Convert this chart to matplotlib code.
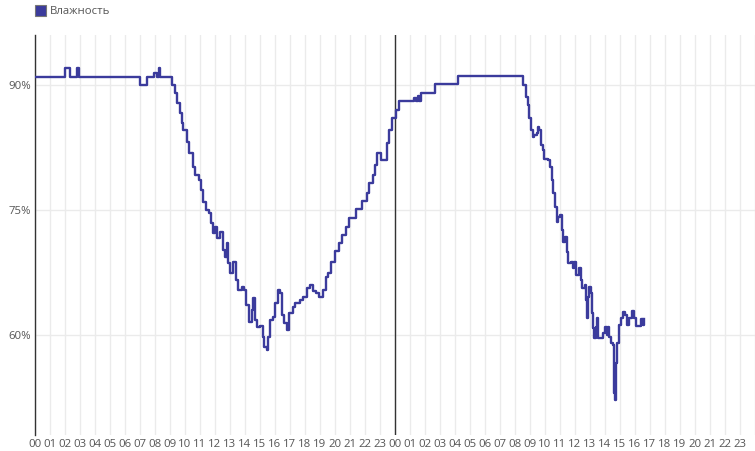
import matplotlib.pyplot as plt
from matplotlib.patches import Rectangle

plt.rcParams['font.family'] = ['Open Sans', 'DejaVu Sans']

# hours since start of first day, humidity %
hours = [0.0, 2.0, 2.35, 2.8, 2.9, 7.0, 7.45, 7.95, 8.1, 8.25, 8.35,
         9.1, 9.33, 9.44, 9.67, 9.78, 9.89, 10.11, 10.29, 10.51, 10.67,
         10.96, 11.07, 11.18, 11.4, 11.62, 11.73, 11.84, 12.0, 12.16, 12.33,
         12.51, 12.67, 12.78, 12.84, 13.0, 13.22, 13.4, 13.56, 13.78, 13.96,
         14.07, 14.29, 14.44, 14.56, 14.67, 14.78, 15.0, 15.18, 15.29, 15.44,
         15.56, 15.67, 15.84, 16.0, 16.18, 16.33, 16.44, 16.6, 16.78, 16.96,
         17.18, 17.33, 17.67, 17.89, 18.11, 18.33, 18.51, 18.73, 18.96, 19.18,
         19.4, 19.56, 19.71, 20.0, 20.29, 20.44, 20.73, 20.96, 21.4, 21.78,
         22.11, 22.29, 22.51, 22.67, 22.82, 23.04, 23.27, 23.44, 23.62, 23.8,
         24.07, 24.24, 25.29, 25.4, 25.51, 25.6, 25.71, 26.67, 28.22,
         32.56, 32.73, 32.84, 32.96, 33.07, 33.18, 33.29, 33.44, 33.56, 33.62,
         33.71, 33.84, 33.96, 34.22, 34.33, 34.44, 34.56, 34.67, 34.78, 34.89,
         35.0, 35.11, 35.22, 35.33, 35.44, 35.56, 35.71, 35.84, 35.93, 36.07,
         36.22, 36.29, 36.4, 36.49, 36.67, 36.73, 36.78, 36.84, 36.96, 37.04,
         37.11, 37.22, 37.29, 37.38, 37.47, 37.56, 37.78, 37.89, 38.0, 38.11,
         38.22, 38.29, 38.38, 38.51, 38.6, 38.67, 38.73, 38.82, 38.91, 39.04,
         39.18, 39.33, 39.44, 39.62, 39.82, 39.96, 40.07, 40.22, 40.38, 40.51,
         40.6]
humidity = [91, 92, 91, 92, 91, 90, 91, 91.5, 91, 92, 91,
            90, 89, 87.8, 86.6, 85.4, 84.6, 83.2, 81.8, 80.2, 79.2,
            78.6, 77.4, 76, 75, 74.6, 73.4, 72.2, 73, 71.6, 72.4,
            70.2, 69.4, 71, 68.6, 67.4, 68.8, 66.6, 65.4, 65.8, 65.4,
            63.6, 61.6, 63, 64.4, 61.8, 61, 61.1, 59.8, 58.6, 58.2,
            59.8, 61.8, 62.2, 63.8, 65.4, 65, 62.4, 61.4, 60.6, 62.6,
            63.4, 63.9, 64.2, 64.6, 65.6, 66, 65.3, 65, 64.6, 65.4,
            67, 67.4, 68.8, 70.1, 71, 72, 73, 74.1, 75.1, 76.1,
            77, 78.2, 79.2, 80.4, 81.8, 81, 81, 83, 84.6, 86,
            87, 88.1, 88.5, 88.1, 88.7, 88.1, 89.1, 90.1, 91.1,
            90, 88.6, 87.6, 86, 84.6, 83.8, 84, 84.2, 85, 84.6,
            82.8, 82.2, 81.1, 81, 80.2, 78.6, 77, 75.4, 73.6, 74.2,
            74.4, 72.6, 71.2, 71.8, 70, 68.6, 68.8, 68, 68.8, 67.2,
            67.2, 68, 66.6, 65.6, 66, 64.2, 62, 64.6, 65.8, 65,
            62.6, 60.8, 59.6, 61, 62, 59.6, 59.6, 60.2, 61, 60,
            61, 59.8, 59, 58.8, 53, 52.2, 56.6, 59, 61.2, 62,
            62.8, 62.4, 61.2, 62, 62.9, 62, 61.1, 61.1, 61.9, 61.2,
            61.9]

y_ticks = [60, 75, 90]
x_tick_labels = [f"{h % 24:02d}" for h in range(48)]

line_color = '#3b3b9c'
text_color = '#555555'
grid_color = '#ebebeb'

fig = plt.figure(figsize=(7.55, 4.51), dpi=100)
ax = fig.add_axes([35 / 755, 1 - 435 / 451, 720 / 755, 400 / 451])

ax.plot(hours, humidity, color=line_color, lw=1.7, drawstyle='steps-post', zorder=3)

ax.set_xlim(0, 48)
ax.set_ylim(48, 96)

ax.set_xticks(range(48))
ax.set_xticklabels(x_tick_labels)
ax.set_yticks(y_ticks)
ax.set_yticklabels([f"{v}%" for v in y_ticks])

ax.tick_params(axis='both', length=0, labelsize=8.2, labelcolor=text_color)
ax.tick_params(axis='x', pad=3)
ax.tick_params(axis='y', pad=3)

ax.grid(True, color=grid_color, lw=1)
ax.axvline(48, color=grid_color, lw=1, zorder=0.5)
ax.set_axisbelow(True)

for s in ['top', 'right', 'bottom']:
    ax.spines[s].set_visible(False)
ax.spines['left'].set_color('#333333')
ax.spines['left'].set_linewidth(1)
ax.axvline(24, color='#333333', lw=1, zorder=2)

# legend
fig.patches.append(Rectangle((35 / 755, 1 - 16 / 451), 11 / 755, 11 / 451,
                             transform=fig.transFigure, facecolor=line_color,
                             edgecolor='#777777', lw=0.8))
fig.text(50 / 755, 1 - 11 / 451, 'Влажность', fontsize=8.2, color=text_color,
         va='center', ha='left')

fig.savefig('out.png', dpi=100)
